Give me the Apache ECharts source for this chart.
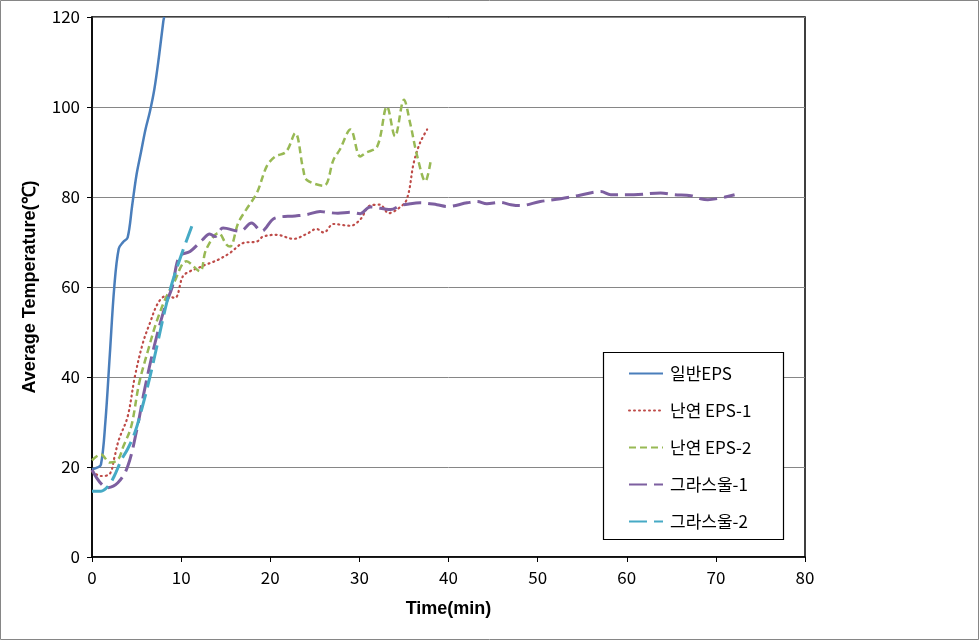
<!DOCTYPE html>
<html><head><meta charset="utf-8">
<script src="https://cdn.jsdelivr.net/npm/echarts@6/dist/echarts.min.js"></script>
<style>html,body{margin:0;padding:0;background:#fff}#c{width:979px;height:640px}</style>
</head><body><div id="c"></div>
<script>
const seriesNames = ['일반EPS', '난연 EPS-1', '난연 EPS-2', '그라스울-1', '그라스울-2'];
const xTicks = [0, 10, 20, 30, 40, 50, 60, 70, 80];
const yTicks = [0, 20, 40, 60, 80, 100, 120];

const eps1Time = [0, 0.5, 1, 1.5, 2, 2.5, 3, 3.5, 4, 4.5, 5, 5.5, 6, 6.5, 7, 7.5, 8, 8.1];
const eps1Temp = [19.5, 19.8, 20.5, 30, 45, 60, 68.5, 70, 71, 78, 85, 90, 95, 99, 104, 111, 119, 120];

const fr1Time = [0, 1, 2, 2.5, 3, 4, 4.8, 5.7, 6.5, 7.4, 8.3, 9.3, 10.2, 11, 12, 12.8, 13.5, 14.2, 15.5, 17, 18.5, 19.2, 20.7, 22.6, 24.1, 25.2, 26, 27.1, 29, 30.1, 31.2, 32.3, 33.3, 34.2, 35.3, 36.1, 36.8, 37.6];
const fr1Temp = [19, 18, 18.5, 22, 26, 31.2, 40, 47.5, 52, 56.4, 58, 57.6, 62.4, 63.5, 64.3, 65, 65.5, 66.1, 67.6, 69.8, 70.1, 71.2, 71.6, 70.7, 71.8, 72.9, 72.1, 74, 73.6, 75, 78.1, 78.3, 76.4, 77.2, 79.4, 87.6, 92, 95];

const fr2Time = [0, 1, 2, 2.9, 3.5, 4.4, 5.3, 6.3, 7.2, 8.2, 9.2, 10.6, 12.1, 12.8, 14.2, 15.1, 15.5, 16.4, 17.3, 18.5, 19.6, 20.5, 21.8, 22.8, 23.7, 24.1, 26, 27.1, 27.8, 29, 30.1, 30.7, 32, 33.1, 34, 35, 35.7, 36.5, 37.4, 38];
const fr2Temp = [21.5, 22.8, 21, 21.6, 24.5, 29, 38.7, 46, 52, 57.2, 61, 65.7, 63.5, 68.3, 72, 69.4, 69, 74.2, 77.2, 80.9, 86.8, 88.9, 90.1, 94.2, 86.1, 83.8, 82.5, 88.3, 90.5, 95, 89, 89.8, 91.2, 100.1, 93.5, 101.6, 96.4, 89, 83.5, 88];

const gw1Time = [0, 1.7, 2.9, 4, 5, 5.9, 7, 8.2, 9, 9.8, 11, 12.4, 13.2, 13.8, 14.7, 16.6, 17.9, 19, 20.5, 22.8, 24.1, 25.6, 26.3, 27.6, 29, 30.1, 31.2, 33.5, 34.6, 35.7, 36.8, 38.7, 39.8, 42.1, 43.2, 44.3, 45.8, 47, 48.1, 50.3, 52.6, 54.5, 57.1, 58.2, 60.8, 63.8, 65.3, 67.2, 68.3, 69.1, 70.6, 71.3, 72.1];
const gw1Temp = [19.4, 15.4, 16.5, 20.1, 28, 37.2, 47, 55.7, 60, 66.8, 67.9, 70.5, 71.8, 71.2, 73.1, 72.4, 74.2, 72.4, 75.3, 75.8, 76.1, 76.8, 76.6, 76.4, 76.6, 76.3, 77.8, 77.2, 78.1, 78.5, 78.7, 78.3, 77.9, 78.7, 79, 78.5, 78.8, 78.3, 78.1, 79, 79.6, 80.3, 81.2, 80.5, 80.5, 80.9, 80.5, 80.3, 79.6, 79.4, 79.8, 80.1, 80.5];

const gw2Time = [0, 1, 1.8, 2.5, 3.3, 4, 4.8, 5.6, 6.5, 7.3, 8.2, 9, 10, 11.2];
const gw2Temp = [14.6, 14.6, 15.7, 18, 21.6, 24, 27.6, 33, 40, 47, 55, 61, 67, 73.5];

const colors = ['#4A7EBB', '#BE4B48', '#98B954', '#7D5FA0', '#46AAC5'];

function pairs(t, v) { return t.map((x, i) => [x, v[i]]); }

const chart = echarts.init(document.getElementById('c'), null, { renderer: 'canvas' });
const font = '"Liberation Sans Narrow", "Noto Sans CJK KR", sans-serif';
const mk = (i, data, dot, width, dash) => ({
  name: seriesNames[i], type: 'line', data: data, showSymbol: false, symbol: 'none', smooth: 0.35,
  z: 3 + i, clip: true,
  lineStyle: { color: colors[i], width: width, type: dash, cap: dot ? 'round' : 'butt' },
  itemStyle: { color: colors[i] }
});
chart.setOption({
  animation: false,
  backgroundColor: '#fff',
  color: colors,
  graphic: [
    { type: 'rect', shape: { x: 0.5, y: 0.5, width: 978, height: 639 }, style: { fill: 'none', stroke: '#868686', lineWidth: 1 }, z: -1 },
    { type: 'rect', shape: { x: 603.5, y: 352.5, width: 180, height: 187 }, style: { fill: '#fff', stroke: '#000', lineWidth: 1.2 }, z: 3 }
  ],
  grid: { left: 92, right: 174, top: 17, bottom: 83, show: true, borderColor: '#000', borderWidth: 1.5, backgroundColor: 'transparent' },
  legend: {
    orient: 'vertical', left: 604, top: 353,
    padding: [12, 10, 8, 24], itemGap: 20, itemWidth: 34, itemHeight: 16,
    itemStyle: { opacity: 0, borderWidth: 0 },
    textStyle: { fontFamily: '"Noto Sans CJK KR", sans-serif', fontSize: 17, color: '#000', padding: [0, 0, 0, 2] },
    data: seriesNames, z: 10
  },
  xAxis: {
    type: 'value', min: 0, max: 80, interval: 10,
    name: 'Time(min)', nameLocation: 'middle', nameGap: 43,
    nameTextStyle: { fontFamily: '"Liberation Sans", sans-serif', fontWeight: 'bold', fontSize: 18, color: '#000' },
    axisLine: { show: true, lineStyle: { color: '#000', width: 1.5 } },
    axisTick: { show: true, length: 5, lineStyle: { color: '#000' } },
    axisLabel: { fontFamily: font, fontSize: 17, color: '#000', margin: 12, formatter: v => xTicks.includes(v) ? String(v) : '' },
    splitLine: { show: false }
  },
  yAxis: {
    type: 'value', min: 0, max: 120, interval: 20,
    name: 'Average Temperature(℃)', nameLocation: 'middle', nameGap: 53, nameRotate: 90,
    nameTextStyle: { fontFamily: '"Liberation Sans", sans-serif', fontWeight: 'bold', fontSize: 18, color: '#000' },
    axisLine: { show: true, lineStyle: { color: '#000', width: 1.5 } },
    axisTick: { show: true, length: 5, lineStyle: { color: '#000' } },
    axisLabel: { fontFamily: font, fontSize: 17, color: '#000', margin: 12, formatter: v => yTicks.includes(v) ? String(v) : '' },
    splitLine: { show: true, lineStyle: { color: '#868686', width: 1 } }
  },
  series: [
    mk(0, pairs(eps1Time, eps1Temp), false, 2.5, 'solid'),
    mk(1, pairs(fr1Time, fr1Temp), true, 2.2, [1, 4]),
    mk(2, pairs(fr2Time, fr2Temp), false, 2.5, [7, 4]),
    mk(3, pairs(gw1Time, gw1Temp), false, 3, [18, 7]),
    mk(4, pairs(gw2Time, gw2Temp), false, 3, [18, 7])
  ]
});
</script></body></html>
